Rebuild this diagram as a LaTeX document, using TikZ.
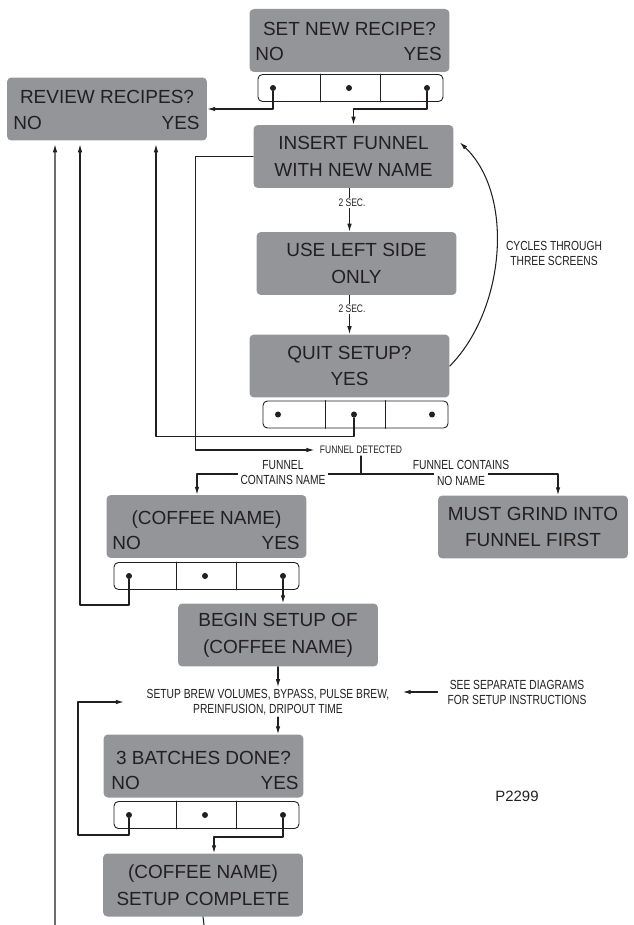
\documentclass[tikz,border=0pt]{standalone}
\usepackage{fontspec}
\setmainfont{Liberation Sans}
\newfontfamily\condfont[FakeStretch=0.78]{Liberation Sans}
\usetikzlibrary{arrows.meta}
\definecolor{screengray}{RGB}{147,149,152}
\definecolor{ink}{RGB}{35,31,32}

\begin{document}
\begin{tikzpicture}[x=0.02cm,y=-0.02cm,line cap=round,line join=round,
  >={Latex[length=4.5pt,width=2.6pt]},
  screen/.style={fill=screengray,rounded corners=2.5pt,minimum width=4cm,minimum height=1.26cm,
    inner sep=0pt,align=center,text=ink,font=\fontsize{10.8}{15.2}\selectfont},
  word/.style={text=ink,inner sep=0pt,font=\fontsize{10.8}{15.2}\selectfont},
  keys/.style={draw=ink,line width=0.5pt,fill=white,rounded corners=2.5pt,minimum width=3.7cm,
    minimum height=0.54cm,inner sep=0pt},
  dot/.style={circle,fill=ink,inner sep=0pt,minimum size=0.12cm},
  note/.style={text=ink,align=center,inner xsep=1.5pt,inner ysep=1pt,
    font=\condfont\fontsize{7.5}{8.5}\selectfont},
  small/.style={text=ink,inner sep=1pt,font=\condfont\fontsize{6.2}{7}\selectfont},
  wire/.style={draw=ink,line width=0.6pt}]
\useasboundingbox (0,0) rectangle (633,925);

% screens
\node[screen] (setnew) at (349.5,40.5) {};
\node[word,anchor=base] (setnew-t) at (349.5,36) {SET NEW RECIPE?};
\node[word,anchor=base west] (setnew-n) at (255,61) {NO};
\node[word,anchor=base east] (setnew-y) at (442,61) {YES};

\node[screen] (review) at (107,109) {};
\node[word,anchor=base] (review-t) at (107,104) {REVIEW RECIPES?};
\node[word,anchor=base west] (review-n) at (13,130) {NO};
\node[word,anchor=base east] (review-y) at (200,130) {YES};

\node[screen] (insert) at (353.5,156.5) {INSERT FUNNEL\\WITH NEW NAME};
\node[screen] (useleft) at (356.5,263.5) {USE LEFT SIDE\\ONLY};
\node[screen] (quit) at (349.5,366) {QUIT SETUP?\\YES};

\node[screen] (coffee) at (206.5,526.5) {};
\node[word,anchor=base] (coffee-t) at (206.5,524) {(COFFEE NAME)};
\node[word,anchor=base west] (coffee-n) at (112,549) {NO};
\node[word,anchor=base east] (coffee-y) at (300,549) {YES};

\node[screen,minimum width=3.8cm] (grind) at (533,527) {MUST GRIND INTO\\FUNNEL FIRST};
\node[screen] (begin) at (278,635) {BEGIN SETUP OF\\(COFFEE NAME)};

\node[screen] (batches) at (203.5,766) {};
\node[word,anchor=base] (batches-t) at (203.5,764) {3 BATCHES DONE?};
\node[word,anchor=base west] (batches-n) at (111,789) {NO};
\node[word,anchor=base east] (batches-y) at (299,789) {YES};

\node[screen] (complete) at (203,885) {(COFFEE NAME)\\SETUP COMPLETE};

% button strips
\foreach \k/\x/\y in {setnew/258/88,quit/263/414.5,coffee/114/576,batches/114/815}{
  \node[keys] (\k-keys) at ({\x+92.5},\y) {};
  \draw[wire] ([xshift=1.26cm]\k-keys.north west) -- ([xshift=1.26cm]\k-keys.south west);
  \draw[wire] ([xshift=2.46cm]\k-keys.north west) -- ([xshift=2.46cm]\k-keys.south west);
  \node[dot] (\k-l) at ({\x+15},\y) {};
  \node[dot] (\k-m) at ({\x+91},\y) {};
  \node[dot] (\k-r) at ({\x+169},\y) {};
}

% text labels
\node[note] (setup) at (268,702) {SETUP BREW VOLUMES, BYPASS, PULSE BREW,\\PREINFUSION, DRIPOUT TIME};
\node[note] (see) at (517,692) {SEE SEPARATE DIAGRAMS\\FOR SETUP INSTRUCTIONS};
\node[note] (cycles) at (554,253.5) {CYCLES THROUGH\\THREE SCREENS};
\node[small] (detected) at (361,450) {FUNNEL DETECTED};
\node[text=ink,inner sep=1pt,font=\fontsize{8.5}{10}\selectfont] (code) at (517,796) {P2299};
\coordinate (split) at (361,474);
\coordinate (offleft) at (55,925);
\coordinate (offdown) at (204,925);

% connectors
\draw[wire,->] (setnew-l) |- (review.east);
\draw[wire,->] (setnew-r) -- ++(0,21) -| (insert.north);
\draw[wire,->] (insert.south -| quit.north) -- (useleft.north -| quit.north);
\draw[wire,->] (useleft.south -| quit.north) -- (quit.north);
\draw[wire,->] (quit.east) .. controls (505,310) and (515,195) .. ([xshift=0.12cm]insert.8);
\draw[wire,->,shorten >=2pt] (quit-m) -- ++(0,22) -| ([xshift=0.98cm]review.south);
\draw[wire,->,shorten >=2pt] (insert.west) -- ++(-58,0) |- (detected.west);
\draw[wire] (detected.south) -- (split);
\draw[wire,->] (split) -| ([xshift=-0.19cm]coffee.north);
\draw[wire,->] (split) -| ([xshift=0.5cm]grind.north);
\draw[wire,->,shorten >=2pt] (coffee-l) -- ++(0,29) -| ([xshift=-0.54cm]review.south);
\draw[wire,->] (coffee-r) -- (coffee-r |- begin.north);
\draw[wire,->] (begin.south) -- (begin.south |- setup.north);
\draw[wire,->] (setup.south -| begin.south) -- (batches.north -| begin.south);
\draw[wire,->,shorten <=4pt,shorten >=6pt] (see.west) -- (see.west -| setup.east);
\draw[wire,->] (batches-l) |- (78,835) |- ([xshift=-0.4cm]setup.west);
\draw[wire,->] (batches-r) -- ++(0,22) -| ([xshift=0.22cm]complete.north);
\draw[wire,->,shorten >=2pt] (offleft) -- ([xshift=-1.04cm]review.south);
\draw[wire] (complete.south) -- (offdown);

% labels sitting on the lines
\node[small,fill=white,inner sep=0.5pt] (sec1) at (352,203) {2 SEC.};
\node[small,fill=white,inner sep=0.5pt] (sec2) at (352,309) {2 SEC.};
\node[note] (cn1) at (283,465) {FUNNEL};
\node[note,fill=white,inner ysep=2.5pt] (cn2) at (283,480) {CONTAINS NAME};
\node[note] (nn1) at (461,465) {FUNNEL CONTAINS};
\node[note,fill=white,inner ysep=2.5pt] (nn2) at (461,481) {NO NAME};
\end{tikzpicture}
\end{document}
